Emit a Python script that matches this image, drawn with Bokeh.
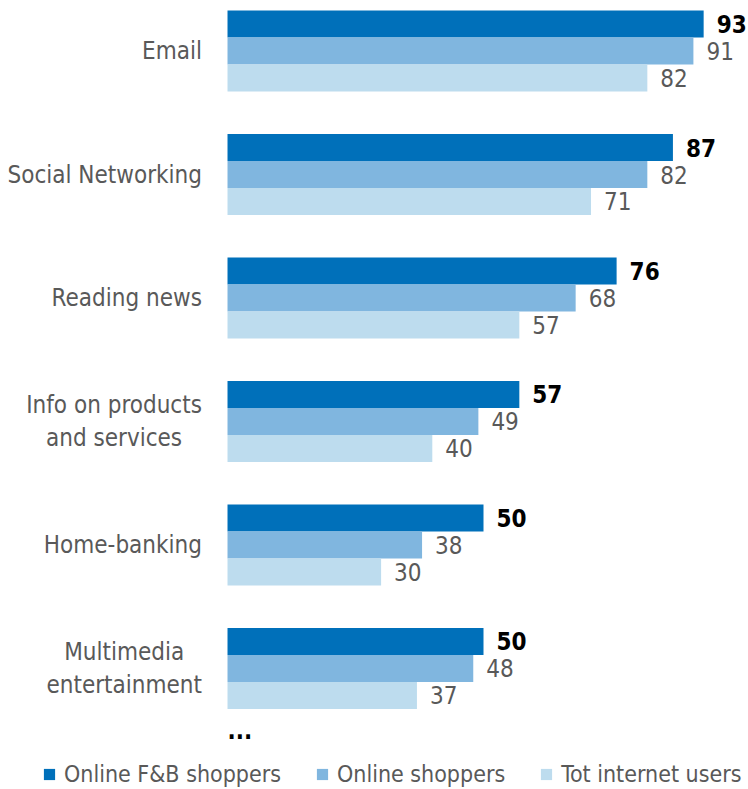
from bokeh.plotting import figure
from bokeh.models import ColumnDataSource, Range1d, Legend, LegendItem
from bokeh.core.properties import value
from bokeh.embed import file_html
from bokeh.resources import INLINE

categories = ["Email", "Social Networking", "Reading news", "Info on products\nand services",
              "Home-banking", "Multimedia\nentertainment"]
fb_shoppers = [93, 87, 76, 57, 50, 50]
online_shoppers = [91, 82, 68, 49, 38, 48]
tot_users = [82, 71, 57, 40, 30, 37]
series_names = ["Online F&B shoppers", "Online shoppers", "Tot internet users"]
colors = ["#0070BA", "#80B6DF", "#BDDCEE"]
label_colors = ["#000000", "#595959", "#595959"]
label_styles = ["bold", "normal", "normal"]

FONT_STR = "DejaVu Sans Condensed, sans-serif"
FONT = value(FONT_STR)

W, H = 748, 789
p = figure(width=W, height=H, output_backend="svg", toolbar_location=None,
           x_range=Range1d(-44.34, 101.76), y_range=Range1d(5.98, -0.409),
           min_border=0, min_border_left=0, min_border_right=0,
           min_border_top=0, min_border_bottom=0)
p.axis.visible = False
p.grid.visible = False
p.outline_line_color = None
p.background_fill_color = "white"

bar_h = 0.2186
ys = list(range(len(categories)))
renderers = []
for k, (vals, col) in enumerate(zip([fb_shoppers, online_shoppers, tot_users], colors)):
    yy = [y + (k - 1) * bar_h for y in ys]
    src = ColumnDataSource(dict(y=yy, right=vals, lbl=[str(v) for v in vals]))
    r = p.hbar(y="y", left=0, right="right", height=bar_h, source=src,
               fill_color=col, line_color=None)
    renderers.append(r)
    p.text(x="right", y="y", text="lbl", source=src, x_offset=13,
           text_align="left", text_baseline="middle", text_font=FONT,
           text_font_size="24px", text_font_style=label_styles[k],
           text_color=label_colors[k])

cat_src = ColumnDataSource(dict(x=[-5.0] * len(categories), y=ys, t=categories))
p.text(x="x", y="y", text="t", source=cat_src, text_align="center", anchor="center_right",
       text_baseline="middle", text_font=FONT, text_font_size="24px",
       text_color="#595959", text_line_height=1.15)

p.text(x=[0.0], y=[5.5], text=["..."], text_align="left", text_baseline="middle",
       text_font=FONT, text_font_size="24px", text_font_style="bold", text_color="#000000")

legend = Legend(items=[LegendItem(label=n, renderers=[r]) for n, r in zip(series_names, renderers)],
                orientation="horizontal", location=(42, 2),
                label_text_font=FONT_STR, label_text_font_size="23px", label_text_color="#595959",
                glyph_width=14, glyph_height=14, label_standoff=8, spacing=34,
                border_line_color=None, background_fill_alpha=0, padding=4, margin=0)
p.add_layout(legend, "center")

open("out.html", "w").write(file_html(p, INLINE))
